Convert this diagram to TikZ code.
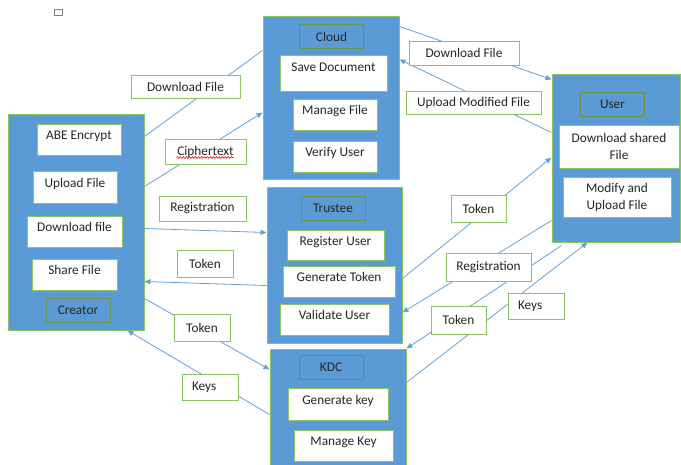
\documentclass[tikz,border=0pt]{standalone}
\usepackage{fontspec}
\setmainfont{Carlito}
\usetikzlibrary{arrows.meta,decorations.pathmorphing}
\definecolor{boxblue}{RGB}{91,155,213}
\definecolor{boxgreen}{RGB}{140,195,100}
\definecolor{linkblue}{RGB}{100,160,215}
\definecolor{inktext}{RGB}{38,38,38}

\begin{document}
\begin{tikzpicture}[x=1pt,y=-1pt,
    font=\fontsize{13.3}{17}\selectfont,
    >={Triangle[length=6pt,width=5pt]},
    container/.style={draw=boxgreen,fill=boxblue,line width=1pt,inner sep=0pt},
    panel/.style={draw=boxgreen,fill=white,line width=1pt,text=inktext,align=center,inner sep=0pt},
    task/.style={panel,text height=9pt,text depth=9pt},
    title/.style={draw=boxgreen!75!black,fill=boxblue,line width=0.8pt,text=inktext,
      inner sep=0pt,minimum width=64,minimum height=24},
    tag/.style={draw=boxgreen,fill=white,line width=1pt,text=inktext,inner sep=0pt},
    flow/.style={draw=linkblue,line width=0.8pt}]
        \useasboundingbox (0,0) rectangle (681,464);
        \clip (0,0) rectangle (681,464);
        \draw[gray,line width=0.6pt] (54,9) rectangle (62,15);
        % the five parties
        \node[container,minimum width=136,minimum height=216] (creator) at (76,222) {};
        \node[container,minimum width=136,minimum height=163] (cloud) at (331,97.5) {};
        \node[container,minimum width=135,minimum height=156] (trustee) at (334.5,265) {};
        \node[container,minimum width=136,minimum height=126] (kdc) at (338,412) {};
        \node[container,minimum width=128,minimum height=168] (user) at (616,158) {};
        % links between them
        \draw[flow] ([yshift=-23]creator.north east) -- ([yshift=-35]cloud.north west);
        \draw[flow,->] ([yshift=-73]creator.north east) -- ([yshift=-97]cloud.north west);
        \draw[flow,->] ([yshift=-115]creator.north east) -- ([yshift=-46]trustee.north west);
        \draw[flow,->] ([yshift=-99]trustee.north west) -- ([yshift=-168]creator.north east);
        \draw[flow,->] ([yshift=-185]creator.north east) -- ([yshift=-21]kdc.north west);
        \draw[flow,->] ([yshift=-66]kdc.north west) -- ([xshift=-17]creator.south east);
        \draw[flow,->] ([yshift=-11]cloud.north east) -- ([yshift=-6]user.north west);
        \draw[flow,->] ([yshift=-59]user.north west) -- ([yshift=-44]cloud.north east);
        \draw[flow,->] ([yshift=-92]trustee.north east) -- ([yshift=-84]user.north west);
        \draw[flow,->] ([yshift=-147]user.north west) -- ([yshift=-126]trustee.north east);
        \draw[flow,->] ([xshift=10,yshift=-3]user.south west) -- (kdc.north east);
        \draw[flow,->] ([yshift=-34]kdc.north east) -- ([xshift=36]user.south west);
        % creator
        \node[task,minimum width=84,minimum height=31] (abe) at (79,139.5) {ABE Encrypt};
        \node[task,minimum width=84,minimum height=32] (upload) at (75,187) {Upload File};
        \node[task,minimum width=95,minimum height=31] (download) at (74.5,231.5) {Download file};
        \node[task,minimum width=85,minimum height=31] (share) at (74.5,274.5) {Share File};
        \node[title] (creatorname) at (78,310) {Creator};
        % cloud
        \node[title] (cloudname) at (331.5,36.5) {Cloud};
        \node[task,text depth=12pt,minimum width=107,minimum height=36] (save) at (333.5,73) {Save Document};
        \node[task,minimum width=84,minimum height=31] (manage) at (335,114.5) {Manage File};
        \node[task,minimum width=84,minimum height=31] (verify) at (335,156.5) {Verify User};
        % trustee
        \node[title] (trusteename) at (333,208) {Trustee};
        \node[task,minimum width=97,minimum height=30] (register) at (335.5,245) {Register User};
        \node[task,minimum width=112,minimum height=31] (gentoken) at (339,281.5) {Generate Token};
        \node[task,minimum width=109,minimum height=31] (validate) at (334.5,319.5) {Validate User};
        % kdc
        \node[title] (kdcname) at (331,367) {KDC};
        \node[task,minimum width=100,minimum height=32] (genkey) at (338,404) {Generate key};
        \node[task,minimum width=99,minimum height=31] (managekey) at (343.5,445.5) {Manage Key};
        % user
        \node[title] (username) at (612.5,104) {User};
        \node[panel,minimum width=120,minimum height=43] (shared) at (619,146.5) {Download shared\\File};
        \node[panel,minimum width=108,minimum height=40] (modify) at (617,197) {Modify and\\Upload File};
        % labels on the links
        \node[tag,minimum width=109,minimum height=23] (dlcreator) at (185.5,86.5) {Download File};
        \node[tag,minimum width=81,minimum height=25] (cipher) at (205.5,151.5) {Ciphertext};
        \draw[red,line width=0.6pt,decorate,decoration={snake,amplitude=0.9pt,segment length=3pt}]
          ([xshift=12,yshift=7]cipher.south west) -- ([xshift=-13,yshift=7]cipher.south east);
        \node[tag,minimum width=87,minimum height=25] (regcreator) at (202.5,208.5) {Registration};
        \node[tag,minimum width=56,minimum height=27] (tokcreator) at (205,263.5) {Token};
        \node[tag,minimum width=56,minimum height=27] (tokkdc) at (202,327.5) {Token};
        \node[tag,text width=36,align=left,minimum width=56,minimum height=26] (keycreator) at (210,387) {Keys};
        \node[tag,minimum width=110,minimum height=24] (dluser) at (464,53) {Download File};
        \node[tag,minimum width=135,minimum height=23] (modified) at (473.5,102.5) {Upload Modified File};
        \node[tag,minimum width=55,minimum height=27] (tokuser) at (478.5,208.5) {Token};
        \node[tag,minimum width=85,minimum height=28] (reguser) at (488.5,267) {Registration};
        \node[tag,minimum width=55,minimum height=28] (tokuserkdc) at (458.5,320) {Token};
        \node[tag,text width=36,align=left,minimum width=56,minimum height=26] (keyuser) at (536,306) {Keys};
\end{tikzpicture}
\end{document}
